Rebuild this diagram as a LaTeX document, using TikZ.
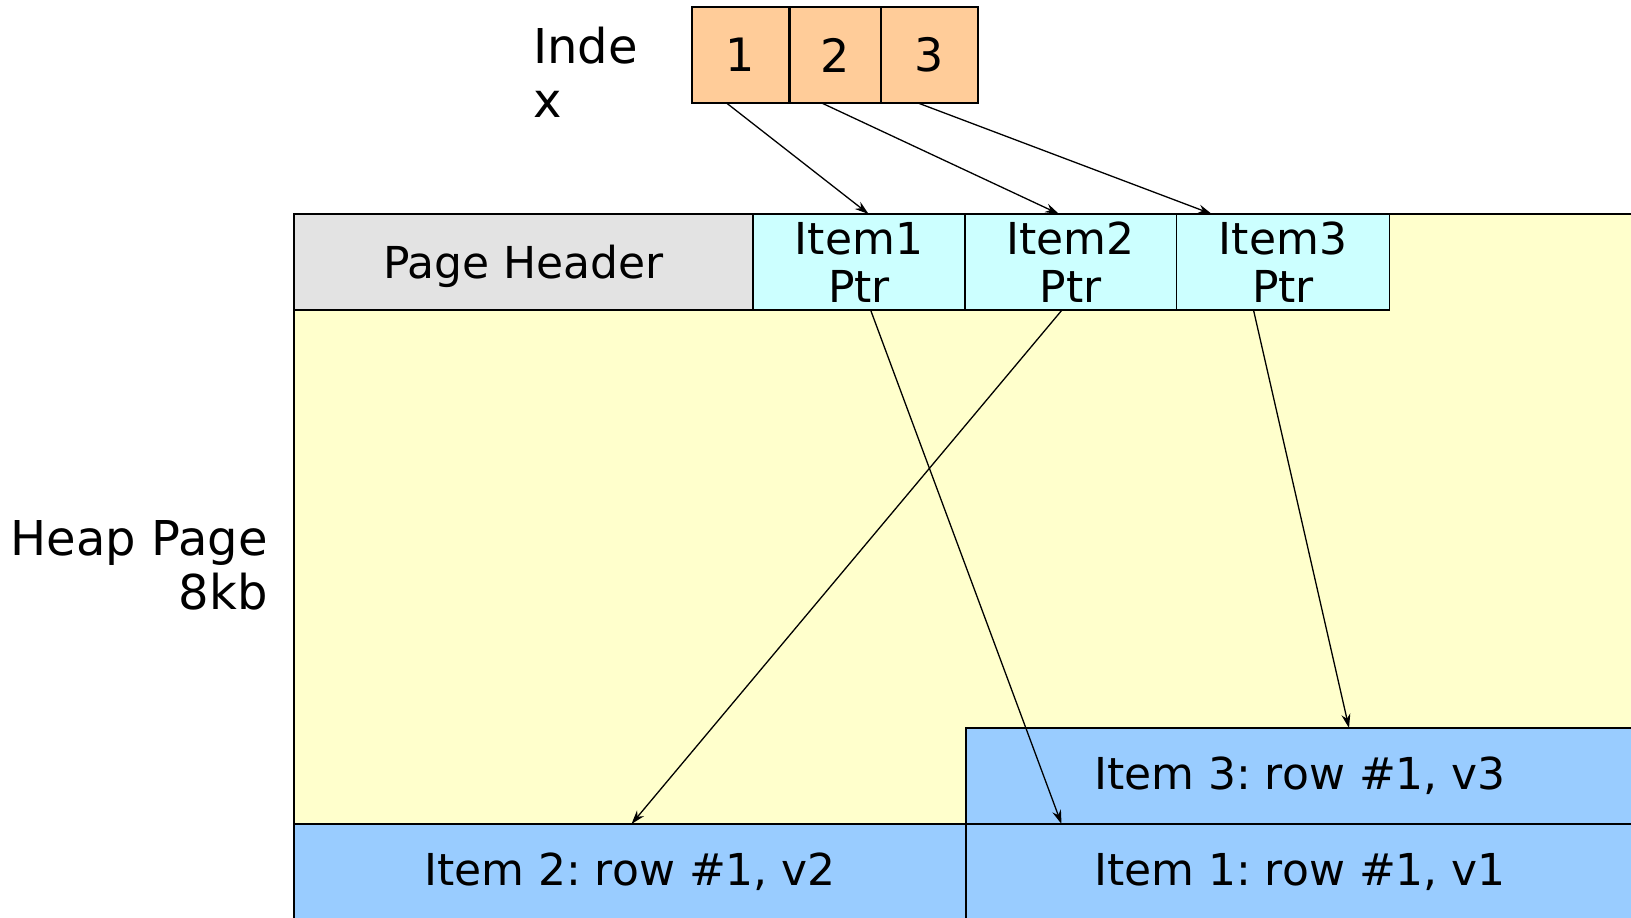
\documentclass[tikz,border=0pt]{standalone}
\usepackage{fontspec}
\setmainfont{DejaVu Sans}
\frenchspacing
\usetikzlibrary{arrows.meta}
\definecolor{idxfill}{HTML}{FFCC99}
\definecolor{ptrfill}{HTML}{CCFFFF}
\definecolor{rowfill}{HTML}{99CCFF}
\definecolor{pagefill}{HTML}{FFFFCC}
\definecolor{hdrfill}{HTML}{E3E3E3}
\tikzset{
  cell/.style={draw=black, line width=1.5pt, anchor=north west, inner sep=0pt, outer sep=0pt,
    font=\fontsize{44}{48}\selectfont, align=center},
  idxbox/.style={cell, fill=idxfill, minimum height=96pt, font=\fontsize{46}{50}\selectfont},
  ptrbox/.style={cell, fill=ptrfill, minimum height=96pt},
  rowbox/.style={cell, fill=rowfill, minimum height=96pt},
  conn/.style={line width=1.3pt, -{Stealth[length=14pt,width=9pt]}},
  lbl/.style={inner sep=0pt, font=\fontsize{48}{54}\selectfont}
}
\begin{document}
\begin{tikzpicture}[x=1pt,y=-1pt]
\useasboundingbox (0,0) rectangle (1631,918);
\clip (0,0) rectangle (1631,918);
% heap page
\node[cell, fill=pagefill, minimum width=1346pt, minimum height=716pt] (heap) at (294,214) {};
% header row
\node[cell, fill=hdrfill, minimum width=459pt, minimum height=96pt, text depth=0pt] (hdr) at (294,214) {Page Header};
\node[ptrbox, minimum width=212pt] (p1) at (753,214) {Item1\\Ptr};
\node[ptrbox, minimum width=211.5pt] (p2) at (965,214) {Item2\\Ptr};
\node[ptrbox, minimum width=213pt] (p3) at (1176.5,214) {Item3\\Ptr};
% rows
\node[rowbox, minimum width=668pt] (r3) at (966,728) {Item 3: row \#1, v3};
\node[rowbox, minimum width=672pt] (r2) at (294,824) {Item 2: row \#1, v2};
\node[rowbox, minimum width=668pt] (r1) at (966,824) {Item 1: row \#1, v1};
% index
\node[idxbox, minimum width=97pt] (i1) at (692,7) {1};
\node[idxbox, minimum width=91pt] (i2) at (790,7) {2};
\node[idxbox, minimum width=97pt] (i3) at (881,7) {3};
\node[lbl, anchor=north west, align=left] (idxlbl) at (533,27) {Inde\\x};
\node[lbl, anchor=north east, align=right] (heaplbl) at (268,520) {Heap Page\\8kb};
% connectors
\draw[conn] ([xshift=34.5pt]i1.south west) -- ([xshift=115.6pt]p1.north west);
\draw[conn] ([xshift=31.7pt]i2.south west) -- ([xshift=94pt]p2.north west);
\draw[conn] ([xshift=37pt]i3.south west) -- ([xshift=35.3pt]p3.north west);
\draw[conn] ([xshift=117.6pt]p1.south west) -- ([xshift=95.5pt]r1.north west);
\draw[conn] ([xshift=97pt]p2.south west) -- ([xshift=337.5pt]r2.north west);
\draw[conn] ([xshift=77pt]p3.south west) -- ([xshift=383pt]r3.north west);
\end{tikzpicture}
\end{document}
